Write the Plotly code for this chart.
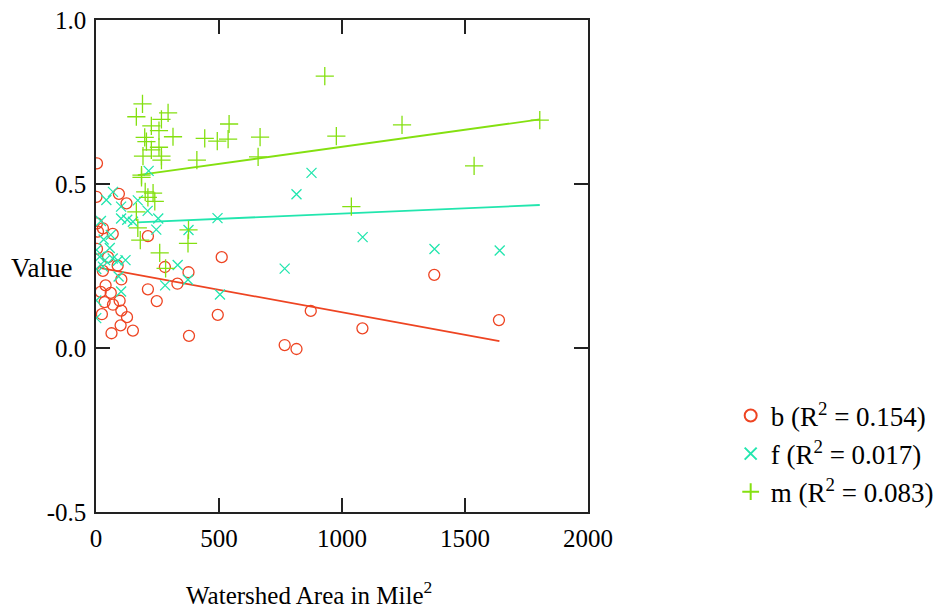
import plotly.graph_objects as go

# ---- data ----
b_x = [4, 2, 93, 124, 4, 8, 28, 68, 211, 4, 49, 28, 88, 280, 376, 331, 39, 211, 60, 19,
       247, 35, 96, 69, 103, 24, 126, 100, 150, 63, 378, 103, 511, 495, 767, 815, 873,
       1083, 1375, 1638]
b_y = [0.563, 0.461, 0.470, 0.441, 0.380, 0.355, 0.365, 0.348, 0.341, 0.302, 0.277,
       0.235, 0.251, 0.247, 0.231, 0.196, 0.191, 0.179, 0.168, 0.171, 0.143, 0.140,
       0.144, 0.132, 0.114, 0.103, 0.094, 0.069, 0.053, 0.045, 0.037, 0.209, 0.277,
       0.101, 0.009, -0.003, 0.113, 0.060, 0.223, 0.085]

f_x = [42, 69, 102, 170, 210, 102, 127, 150, 253, 245, 376, 214, 20, 31, 60, 56, 2, 15,
       37, 68, 120, 89, 1, 28, 332, 281, 374, 92, 102, 1, 1, 494, 504, 767, 815, 876,
       1084, 1376, 1641]
f_y = [0.451, 0.476, 0.431, 0.450, 0.418, 0.395, 0.391, 0.385, 0.395, 0.361, 0.360,
       0.540, 0.387, 0.331, 0.345, 0.305, 0.299, 0.278, 0.268, 0.273, 0.268, 0.266,
       0.241, 0.248, 0.253, 0.191, 0.208, 0.218, 0.172, 0.145, 0.091, 0.396, 0.163,
       0.242, 0.469, 0.534, 0.338, 0.302, 0.297]

m_x = [189, 164, 293, 266, 225, 256, 313, 198, 205, 442, 493, 537, 541, 256, 225, 191,
       266, 266, 410, 185, 185, 200, 232, 211, 239, 164, 170, 180, 376, 374, 259, 283,
       659, 667, 977, 930, 1038, 1244, 1537, 1804]
m_y = [0.744, 0.705, 0.717, 0.697, 0.677, 0.663, 0.644, 0.642, 0.629, 0.639, 0.631,
       0.637, 0.683, 0.612, 0.604, 0.585, 0.585, 0.573, 0.573, 0.527, 0.520, 0.476,
       0.472, 0.459, 0.447, 0.415, 0.366, 0.329, 0.360, 0.319, 0.290, 0.243, 0.583,
       0.643, 0.646, 0.829, 0.431, 0.680, 0.555, 0.695]

# fitted trend lines (end points)
b_fit_x = [15, 1640]
b_fit_y = [0.244, 0.021]
f_fit_x = [167, 1804]
f_fit_y = [0.383, 0.436]
m_fit_x = [170, 1804]
m_fit_y = [0.527, 0.697]

series_names = ["b (R<sup>2</sup> = 0.154)", "f (R<sup>2</sup> = 0.017)", "m (R<sup>2</sup> = 0.083)"]

x_tick_vals = [0, 500, 1000, 1500, 2000]
x_tick_text = ["0", "500", "1000", "1500", "2000"]
y_tick_vals = [-0.5, 0.0, 0.5, 1.0]
y_tick_text = ["-0.5", "0.0", "0.5", "1.0"]

x_title = "Watershed Area in Mile<sup>2</sup>"
y_title = "Value"

# ---- styling ----
RED = "#EE4422"
CYAN = "#22E6AE"
GREEN = "#84E010"
FONT = "Liberation Serif"

fig = go.Figure()

fig.add_trace(go.Scatter(x=b_fit_x, y=b_fit_y, mode="lines",
                         line=dict(color=RED, width=1.8), showlegend=False, hoverinfo="skip"))
fig.add_trace(go.Scatter(x=f_fit_x, y=f_fit_y, mode="lines",
                         line=dict(color=CYAN, width=1.8), showlegend=False, hoverinfo="skip"))
fig.add_trace(go.Scatter(x=m_fit_x, y=m_fit_y, mode="lines",
                         line=dict(color=GREEN, width=1.8), showlegend=False, hoverinfo="skip"))

fig.add_trace(go.Scatter(x=b_x, y=b_y, mode="markers", name=series_names[0],
                         marker=dict(symbol="circle-open", size=11, color=RED,
                                     line=dict(width=1.3, color=RED))))
fig.add_trace(go.Scatter(x=f_x, y=f_y, mode="markers", name=series_names[1],
                         marker=dict(symbol="x-thin-open", size=10, color=CYAN,
                                     line=dict(width=1.3, color=CYAN))))
fig.add_trace(go.Scatter(x=m_x, y=m_y, mode="markers", name=series_names[2],
                         marker=dict(symbol="cross-thin-open", size=13, color=GREEN,
                                     line=dict(width=1.3, color=GREEN))))

axis_common = dict(showgrid=False, zeroline=False, showline=True, linecolor="#222",
                   linewidth=1.5, mirror="ticks", ticks="inside", ticklen=14,
                   tickwidth=1.5, tickcolor="#222", automargin=False,
                   tickfont=dict(family=FONT, size=25, color="black"))

fig.update_xaxes(range=[0, 2000], tickmode="array", tickvals=x_tick_vals,
                 ticktext=x_tick_text, ticklabelstandoff=3, **axis_common)
fig.update_yaxes(range=[-0.5, 1.0], tickmode="array", tickvals=y_tick_vals,
                 ticktext=y_tick_text, ticklabelstandoff=3, **axis_common)

fig.add_annotation(text=y_title, xref="paper", yref="paper", x=-0.111, y=0.496,
                   xanchor="center", yanchor="middle", showarrow=False,
                   font=dict(family=FONT, size=27, color="black"))
fig.add_annotation(text=x_title, xref="paper", yref="paper", x=0.433, y=-0.164,
                   xanchor="center", yanchor="middle", showarrow=False,
                   font=dict(family=FONT, size=25, color="black"))

fig.update_layout(
    width=938, height=609,
    margin=dict(l=96, r=350, t=20, b=97, autoexpand=False),
    paper_bgcolor="white", plot_bgcolor="white",
    showlegend=True,
    legend=dict(x=1.29, y=0.245, xanchor="left", yanchor="top",
                font=dict(family=FONT, size=27, color="black"),
                bgcolor="rgba(0,0,0,0)", tracegroupgap=0, itemsizing="constant",
                itemwidth=30),
    font=dict(family=FONT, color="black"),
)

fig.write_html("out.html")
